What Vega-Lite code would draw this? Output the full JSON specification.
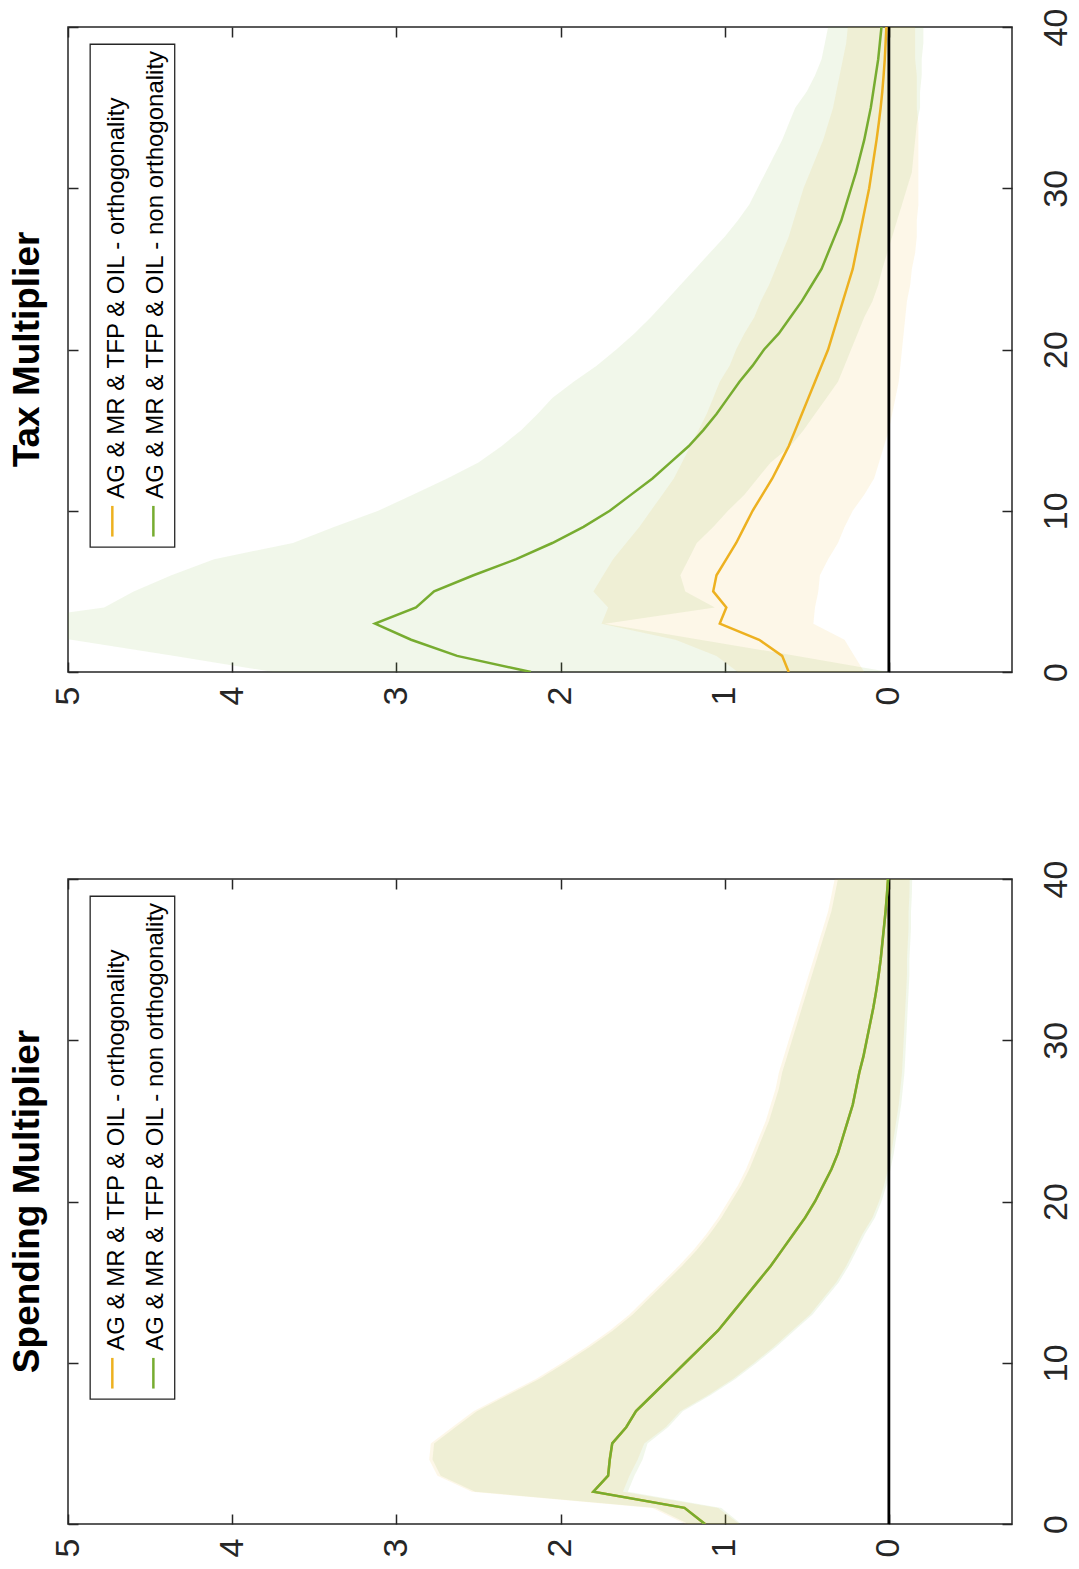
{
  "$schema": "https://vega.github.io/schema/vega-lite/v6.json",
  "padding": {"left": 8, "top": 7, "right": 2, "bottom": 2},
  "background": "white",
  "datasets": {
    "tax": [
      {"s":"orth","h":0,"m":0.61,"lo":0.15,"hi":0.92},
      {"s":"orth","h":1,"m":0.65,"lo":0.21,"hi":1.05},
      {"s":"orth","h":2,"m":0.79,"lo":0.27,"hi":1.30},
      {"s":"orth","h":3,"m":1.03,"lo":0.46,"hi":1.75},
      {"s":"orth","h":4,"m":0.99,"lo":0.45,"hi":1.71},
      {"s":"orth","h":5,"m":1.07,"lo":0.43,"hi":1.80},
      {"s":"orth","h":6,"m":1.05,"lo":0.42,"hi":1.74},
      {"s":"orth","h":7,"m":0.99,"lo":0.37,"hi":1.68},
      {"s":"orth","h":8,"m":0.93,"lo":0.31,"hi":1.60},
      {"s":"orth","h":9,"m":0.88,"lo":0.27,"hi":1.52},
      {"s":"orth","h":10,"m":0.83,"lo":0.22,"hi":1.45},
      {"s":"orth","h":11,"m":0.77,"lo":0.15,"hi":1.38},
      {"s":"orth","h":12,"m":0.71,"lo":0.09,"hi":1.31},
      {"s":"orth","h":13,"m":0.66,"lo":0.06,"hi":1.26},
      {"s":"orth","h":14,"m":0.61,"lo":0.03,"hi":1.21},
      {"s":"orth","h":15,"m":0.57,"lo":0.00,"hi":1.16},
      {"s":"orth","h":16,"m":0.53,"lo":-0.02,"hi":1.11},
      {"s":"orth","h":17,"m":0.49,"lo":-0.04,"hi":1.07},
      {"s":"orth","h":18,"m":0.45,"lo":-0.06,"hi":1.03},
      {"s":"orth","h":19,"m":0.41,"lo":-0.07,"hi":0.97},
      {"s":"orth","h":20,"m":0.37,"lo":-0.08,"hi":0.93},
      {"s":"orth","h":21,"m":0.34,"lo":-0.09,"hi":0.88},
      {"s":"orth","h":22,"m":0.31,"lo":-0.10,"hi":0.82},
      {"s":"orth","h":23,"m":0.28,"lo":-0.11,"hi":0.78},
      {"s":"orth","h":24,"m":0.25,"lo":-0.13,"hi":0.73},
      {"s":"orth","h":25,"m":0.22,"lo":-0.14,"hi":0.69},
      {"s":"orth","h":26,"m":0.20,"lo":-0.16,"hi":0.65},
      {"s":"orth","h":27,"m":0.18,"lo":-0.17,"hi":0.61},
      {"s":"orth","h":28,"m":0.16,"lo":-0.17,"hi":0.58},
      {"s":"orth","h":29,"m":0.14,"lo":-0.18,"hi":0.55},
      {"s":"orth","h":30,"m":0.12,"lo":-0.18,"hi":0.52},
      {"s":"orth","h":31,"m":0.105,"lo":-0.18,"hi":0.48},
      {"s":"orth","h":32,"m":0.09,"lo":-0.18,"hi":0.44},
      {"s":"orth","h":33,"m":0.075,"lo":-0.18,"hi":0.40},
      {"s":"orth","h":34,"m":0.062,"lo":-0.18,"hi":0.37},
      {"s":"orth","h":35,"m":0.05,"lo":-0.17,"hi":0.34},
      {"s":"orth","h":36,"m":0.04,"lo":-0.17,"hi":0.32},
      {"s":"orth","h":37,"m":0.032,"lo":-0.17,"hi":0.30},
      {"s":"orth","h":38,"m":0.025,"lo":-0.16,"hi":0.28},
      {"s":"orth","h":39,"m":0.02,"lo":-0.16,"hi":0.26},
      {"s":"orth","h":40,"m":0.015,"lo":-0.16,"hi":0.25},
      {"s":"nonorth","h":0,"m":2.18,"lo":0.0,"hi":3.75},
      {"s":"nonorth","h":1,"m":2.63,"lo":0.56,"hi":4.35},
      {"s":"nonorth","h":2,"m":2.91,"lo":1.15,"hi":4.98},
      {"s":"nonorth","h":3,"m":3.13,"lo":1.73,"hi":5.5},
      {"s":"nonorth","h":4,"m":2.88,"lo":1.06,"hi":4.78},
      {"s":"nonorth","h":5,"m":2.77,"lo":1.24,"hi":4.6},
      {"s":"nonorth","h":6,"m":2.53,"lo":1.27,"hi":4.37},
      {"s":"nonorth","h":7,"m":2.27,"lo":1.22,"hi":4.11},
      {"s":"nonorth","h":8,"m":2.05,"lo":1.17,"hi":3.63},
      {"s":"nonorth","h":9,"m":1.86,"lo":1.07,"hi":3.38},
      {"s":"nonorth","h":10,"m":1.70,"lo":0.98,"hi":3.11},
      {"s":"nonorth","h":11,"m":1.57,"lo":0.88,"hi":2.90},
      {"s":"nonorth","h":12,"m":1.44,"lo":0.80,"hi":2.69},
      {"s":"nonorth","h":13,"m":1.33,"lo":0.72,"hi":2.50},
      {"s":"nonorth","h":14,"m":1.22,"lo":0.60,"hi":2.36},
      {"s":"nonorth","h":15,"m":1.13,"lo":0.52,"hi":2.24},
      {"s":"nonorth","h":16,"m":1.05,"lo":0.45,"hi":2.14},
      {"s":"nonorth","h":17,"m":0.98,"lo":0.38,"hi":2.05},
      {"s":"nonorth","h":18,"m":0.91,"lo":0.31,"hi":1.92},
      {"s":"nonorth","h":19,"m":0.83,"lo":0.27,"hi":1.78},
      {"s":"nonorth","h":20,"m":0.76,"lo":0.23,"hi":1.66},
      {"s":"nonorth","h":21,"m":0.67,"lo":0.19,"hi":1.55},
      {"s":"nonorth","h":22,"m":0.60,"lo":0.15,"hi":1.45},
      {"s":"nonorth","h":23,"m":0.53,"lo":0.10,"hi":1.36},
      {"s":"nonorth","h":24,"m":0.47,"lo":0.065,"hi":1.27},
      {"s":"nonorth","h":25,"m":0.41,"lo":0.04,"hi":1.18},
      {"s":"nonorth","h":26,"m":0.37,"lo":0.01,"hi":1.09},
      {"s":"nonorth","h":27,"m":0.33,"lo":-0.02,"hi":1.00},
      {"s":"nonorth","h":28,"m":0.29,"lo":-0.05,"hi":0.92},
      {"s":"nonorth","h":29,"m":0.26,"lo":-0.08,"hi":0.85},
      {"s":"nonorth","h":30,"m":0.23,"lo":-0.11,"hi":0.80},
      {"s":"nonorth","h":31,"m":0.20,"lo":-0.14,"hi":0.75},
      {"s":"nonorth","h":32,"m":0.175,"lo":-0.15,"hi":0.70},
      {"s":"nonorth","h":33,"m":0.15,"lo":-0.16,"hi":0.65},
      {"s":"nonorth","h":34,"m":0.13,"lo":-0.17,"hi":0.61},
      {"s":"nonorth","h":35,"m":0.11,"lo":-0.19,"hi":0.57},
      {"s":"nonorth","h":36,"m":0.095,"lo":-0.19,"hi":0.50},
      {"s":"nonorth","h":37,"m":0.08,"lo":-0.20,"hi":0.45},
      {"s":"nonorth","h":38,"m":0.065,"lo":-0.20,"hi":0.41},
      {"s":"nonorth","h":39,"m":0.055,"lo":-0.21,"hi":0.39},
      {"s":"nonorth","h":40,"m":0.045,"lo":-0.21,"hi":0.37}
    ],
    "spend": [
      {"s":"orth","h":0,"m":1.12,"lo":0.91,"hi":1.24},
      {"s":"orth","h":1,"m":1.245,"lo":1.04,"hi":1.44},
      {"s":"orth","h":2,"m":1.80,"lo":1.62,"hi":2.54},
      {"s":"orth","h":3,"m":1.71,"lo":1.58,"hi":2.75},
      {"s":"orth","h":4,"m":1.70,"lo":1.53,"hi":2.80},
      {"s":"orth","h":5,"m":1.685,"lo":1.49,"hi":2.79},
      {"s":"orth","h":6,"m":1.60,"lo":1.36,"hi":2.66},
      {"s":"orth","h":7,"m":1.54,"lo":1.27,"hi":2.53},
      {"s":"orth","h":8,"m":1.44,"lo":1.10,"hi":2.34},
      {"s":"orth","h":9,"m":1.34,"lo":0.95,"hi":2.15},
      {"s":"orth","h":10,"m":1.24,"lo":0.82,"hi":1.99},
      {"s":"orth","h":11,"m":1.14,"lo":0.70,"hi":1.84},
      {"s":"orth","h":12,"m":1.04,"lo":0.59,"hi":1.70},
      {"s":"orth","h":13,"m":0.96,"lo":0.48,"hi":1.58},
      {"s":"orth","h":14,"m":0.88,"lo":0.40,"hi":1.48},
      {"s":"orth","h":15,"m":0.80,"lo":0.32,"hi":1.38},
      {"s":"orth","h":16,"m":0.72,"lo":0.26,"hi":1.28},
      {"s":"orth","h":17,"m":0.65,"lo":0.21,"hi":1.19},
      {"s":"orth","h":18,"m":0.58,"lo":0.16,"hi":1.11},
      {"s":"orth","h":19,"m":0.51,"lo":0.10,"hi":1.04},
      {"s":"orth","h":20,"m":0.45,"lo":0.06,"hi":0.98},
      {"s":"orth","h":21,"m":0.40,"lo":0.03,"hi":0.92},
      {"s":"orth","h":22,"m":0.35,"lo":0.005,"hi":0.87},
      {"s":"orth","h":23,"m":0.31,"lo":-0.015,"hi":0.83},
      {"s":"orth","h":24,"m":0.28,"lo":-0.03,"hi":0.79},
      {"s":"orth","h":25,"m":0.25,"lo":-0.045,"hi":0.75},
      {"s":"orth","h":26,"m":0.22,"lo":-0.06,"hi":0.72},
      {"s":"orth","h":27,"m":0.20,"lo":-0.07,"hi":0.69},
      {"s":"orth","h":28,"m":0.18,"lo":-0.08,"hi":0.67},
      {"s":"orth","h":29,"m":0.155,"lo":-0.085,"hi":0.64},
      {"s":"orth","h":30,"m":0.135,"lo":-0.09,"hi":0.61},
      {"s":"orth","h":31,"m":0.115,"lo":-0.095,"hi":0.58},
      {"s":"orth","h":32,"m":0.095,"lo":-0.10,"hi":0.55},
      {"s":"orth","h":33,"m":0.078,"lo":-0.105,"hi":0.52},
      {"s":"orth","h":34,"m":0.063,"lo":-0.11,"hi":0.49},
      {"s":"orth","h":35,"m":0.05,"lo":-0.11,"hi":0.46},
      {"s":"orth","h":36,"m":0.04,"lo":-0.115,"hi":0.43},
      {"s":"orth","h":37,"m":0.03,"lo":-0.12,"hi":0.40},
      {"s":"orth","h":38,"m":0.02,"lo":-0.12,"hi":0.37},
      {"s":"orth","h":39,"m":0.012,"lo":-0.125,"hi":0.35},
      {"s":"orth","h":40,"m":0.005,"lo":-0.127,"hi":0.33},
      {"s":"nonorth","h":0,"m":1.12,"lo":0.90,"hi":1.22},
      {"s":"nonorth","h":1,"m":1.245,"lo":1.02,"hi":1.42},
      {"s":"nonorth","h":2,"m":1.80,"lo":1.59,"hi":2.52},
      {"s":"nonorth","h":3,"m":1.71,"lo":1.55,"hi":2.73},
      {"s":"nonorth","h":4,"m":1.70,"lo":1.50,"hi":2.78},
      {"s":"nonorth","h":5,"m":1.685,"lo":1.47,"hi":2.77},
      {"s":"nonorth","h":6,"m":1.60,"lo":1.345,"hi":2.64},
      {"s":"nonorth","h":7,"m":1.54,"lo":1.255,"hi":2.51},
      {"s":"nonorth","h":8,"m":1.44,"lo":1.085,"hi":2.32},
      {"s":"nonorth","h":9,"m":1.34,"lo":0.935,"hi":2.13},
      {"s":"nonorth","h":10,"m":1.24,"lo":0.805,"hi":1.97},
      {"s":"nonorth","h":11,"m":1.14,"lo":0.685,"hi":1.82},
      {"s":"nonorth","h":12,"m":1.04,"lo":0.575,"hi":1.68},
      {"s":"nonorth","h":13,"m":0.96,"lo":0.465,"hi":1.56},
      {"s":"nonorth","h":14,"m":0.88,"lo":0.385,"hi":1.46},
      {"s":"nonorth","h":15,"m":0.80,"lo":0.305,"hi":1.36},
      {"s":"nonorth","h":16,"m":0.72,"lo":0.245,"hi":1.26},
      {"s":"nonorth","h":17,"m":0.65,"lo":0.195,"hi":1.17},
      {"s":"nonorth","h":18,"m":0.58,"lo":0.145,"hi":1.09},
      {"s":"nonorth","h":19,"m":0.51,"lo":0.085,"hi":1.02},
      {"s":"nonorth","h":20,"m":0.45,"lo":0.045,"hi":0.96},
      {"s":"nonorth","h":21,"m":0.40,"lo":0.015,"hi":0.90},
      {"s":"nonorth","h":22,"m":0.35,"lo":-0.01,"hi":0.85},
      {"s":"nonorth","h":23,"m":0.31,"lo":-0.03,"hi":0.81},
      {"s":"nonorth","h":24,"m":0.28,"lo":-0.045,"hi":0.77},
      {"s":"nonorth","h":25,"m":0.25,"lo":-0.06,"hi":0.73},
      {"s":"nonorth","h":26,"m":0.22,"lo":-0.075,"hi":0.70},
      {"s":"nonorth","h":27,"m":0.20,"lo":-0.085,"hi":0.67},
      {"s":"nonorth","h":28,"m":0.18,"lo":-0.095,"hi":0.65},
      {"s":"nonorth","h":29,"m":0.155,"lo":-0.10,"hi":0.62},
      {"s":"nonorth","h":30,"m":0.135,"lo":-0.105,"hi":0.59},
      {"s":"nonorth","h":31,"m":0.115,"lo":-0.11,"hi":0.56},
      {"s":"nonorth","h":32,"m":0.095,"lo":-0.115,"hi":0.53},
      {"s":"nonorth","h":33,"m":0.078,"lo":-0.12,"hi":0.50},
      {"s":"nonorth","h":34,"m":0.063,"lo":-0.125,"hi":0.47},
      {"s":"nonorth","h":35,"m":0.05,"lo":-0.125,"hi":0.44},
      {"s":"nonorth","h":36,"m":0.04,"lo":-0.13,"hi":0.41},
      {"s":"nonorth","h":37,"m":0.03,"lo":-0.135,"hi":0.38},
      {"s":"nonorth","h":38,"m":0.02,"lo":-0.135,"hi":0.35},
      {"s":"nonorth","h":39,"m":0.012,"lo":-0.14,"hi":0.33},
      {"s":"nonorth","h":40,"m":0.005,"lo":-0.142,"hi":0.31}
    ]
  },
  "vconcat": [
    {
      "title": {"text": "Tax Multiplier", "orient": "left", "anchor": "middle", "fontSize": 37, "fontWeight": "bold", "font": "Liberation Sans", "color": "#000000", "offset": 4},
      "width": 944,
      "height": 645,
      "resolve": {"axis": {"x": "independent", "y": "independent"}},
      "layer": [
        {
          "data": {"name": "tax"},
          "mark": {"type": "area", "orient": "horizontal", "fillOpacity": 0.1, "clip": true},
          "encoding": {
            "x": {"field": "lo", "type": "quantitative", "scale": {"domain": [-0.75, 5], "reverse": true, "nice": false, "zero": false},
                  "axis": {"orient": "bottom", "values": [0,1,2,3,4,5], "labelAngle": 270, "labelAlign": "right", "labelBaseline": "middle", "tickSize": -10, "labelPadding": 24, "labelFlush": false, "labelOverlap": false, "title": null}},
            "x2": {"field": "hi"},
            "y": {"field": "h", "type": "quantitative", "scale": {"domain": [0, 40], "nice": false, "zero": false},
                  "axis": {"orient": "right", "values": [0,10,20,30,40], "labelAngle": 270, "labelAlign": "center", "labelBaseline": "top", "tickSize": -10, "labelPadding": 37, "labelFlush": false, "labelOverlap": false, "title": null}},
            "color": {"field": "s", "type": "nominal", "scale": {"domain": ["orth", "nonorth"], "range": ["#EDB120", "#77AC30"]}, "legend": null}
          }
        },
        {
          "data": {"values": [{"v": 0}]},
          "mark": {"type": "rule", "color": "#000000", "strokeWidth": 2.8},
          "encoding": {
            "x": {"field": "v", "type": "quantitative", "axis": {"orient": "top", "values": [0,1,2,3,4,5], "labels": false, "tickSize": -10, "title": null}}
          }
        },
        {
          "data": {"name": "tax"},
          "transform": [{"filter": "datum.s === 'orth'"}],
          "mark": {"type": "line", "color": "#EDB120", "strokeWidth": 2.5, "clip": true},
          "encoding": {
            "x": {"field": "m", "type": "quantitative", "axis": null},
            "y": {"field": "h", "type": "quantitative", "axis": {"orient": "left", "values": [0,10,20,30,40], "labels": false, "tickSize": -10, "title": null}},
            "order": {"field": "h", "type": "quantitative"}
          }
        },
        {
          "data": {"name": "tax"},
          "transform": [{"filter": "datum.s === 'nonorth'"}],
          "mark": {"type": "line", "color": "#77AC30", "strokeWidth": 2.5, "clip": true},
          "encoding": {
            "x": {"field": "m", "type": "quantitative", "axis": null},
            "y": {"field": "h", "type": "quantitative", "axis": null},
            "order": {"field": "h", "type": "quantitative"}
          }
        },
        {
          "data": {"values": [{"x1": 4.865, "x2": 4.35, "y1": 38.93, "y2": 7.75}]},
          "mark": {"type": "rect", "fill": "white", "stroke": "#262626", "strokeWidth": 1.3},
          "encoding": {
            "x": {"field": "x1", "type": "quantitative", "axis": null},
            "x2": {"field": "x2"},
            "y": {"field": "y1", "type": "quantitative", "axis": null},
            "y2": {"field": "y2"}
          }
        },
        {
          "data": {"values": [{"label": "AG & MR & TFP & OIL - orthogonality", "s": "orth", "lx": 4.73, "ly1": 10.3, "ly2": 8.4, "tx": 4.70}, {"label": "AG & MR & TFP & OIL - non orthogonality", "s": "nonorth", "lx": 4.48, "ly1": 10.3, "ly2": 8.4, "tx": 4.465}]},
          "layer": [
            {
              "mark": {"type": "rule", "strokeWidth": 2.5},
              "encoding": {
                "x": {"field": "lx", "type": "quantitative", "axis": null},
                "y": {"field": "ly1", "type": "quantitative", "axis": null},
                "y2": {"field": "ly2"},
                "color": {"field": "s", "type": "nominal", "scale": {"domain": ["orth", "nonorth"], "range": ["#EDB120", "#77AC30"]}, "legend": null}
              }
            },
            {
              "mark": {"type": "text", "angle": 270, "align": "left", "baseline": "middle", "font": "Liberation Sans", "fontSize": 24, "color": "#000000"},
              "encoding": {
                "x": {"field": "tx", "type": "quantitative", "axis": null},
                "y": {"datum": 10.75, "type": "quantitative", "axis": null},
                "text": {"field": "label"}
              }
            }
          ]
        }
      ]
    },
    {
      "title": {"text": "Spending Multiplier", "orient": "left", "anchor": "middle", "fontSize": 37, "fontWeight": "bold", "font": "Liberation Sans", "color": "#000000", "offset": 4},
      "width": 944,
      "height": 645,
      "resolve": {"axis": {"x": "independent", "y": "independent"}},
      "layer": [
        {
          "data": {"name": "spend"},
          "mark": {"type": "area", "orient": "horizontal", "fillOpacity": 0.1, "clip": true},
          "encoding": {
            "x": {"field": "lo", "type": "quantitative", "scale": {"domain": [-0.75, 5], "reverse": true, "nice": false, "zero": false},
                  "axis": {"orient": "bottom", "values": [0,1,2,3,4,5], "labelAngle": 270, "labelAlign": "right", "labelBaseline": "middle", "tickSize": -10, "labelPadding": 24, "labelFlush": false, "labelOverlap": false, "title": null}},
            "x2": {"field": "hi"},
            "y": {"field": "h", "type": "quantitative", "scale": {"domain": [0, 40], "nice": false, "zero": false},
                  "axis": {"orient": "right", "values": [0,10,20,30,40], "labelAngle": 270, "labelAlign": "center", "labelBaseline": "top", "tickSize": -10, "labelPadding": 37, "labelFlush": false, "labelOverlap": false, "title": null}},
            "color": {"field": "s", "type": "nominal", "scale": {"domain": ["orth", "nonorth"], "range": ["#EDB120", "#77AC30"]}, "legend": null}
          }
        },
        {
          "data": {"values": [{"v": 0}]},
          "mark": {"type": "rule", "color": "#000000", "strokeWidth": 2.8},
          "encoding": {
            "x": {"field": "v", "type": "quantitative", "axis": {"orient": "top", "values": [0,1,2,3,4,5], "labels": false, "tickSize": -10, "title": null}}
          }
        },
        {
          "data": {"name": "spend"},
          "transform": [{"filter": "datum.s === 'orth'"}],
          "mark": {"type": "line", "color": "#EDB120", "strokeWidth": 2.5, "clip": true},
          "encoding": {
            "x": {"field": "m", "type": "quantitative", "axis": null},
            "y": {"field": "h", "type": "quantitative", "axis": {"orient": "left", "values": [0,10,20,30,40], "labels": false, "tickSize": -10, "title": null}},
            "order": {"field": "h", "type": "quantitative"}
          }
        },
        {
          "data": {"name": "spend"},
          "transform": [{"filter": "datum.s === 'nonorth'"}],
          "mark": {"type": "line", "color": "#77AC30", "strokeWidth": 2.5, "clip": true},
          "encoding": {
            "x": {"field": "m", "type": "quantitative", "axis": null},
            "y": {"field": "h", "type": "quantitative", "axis": null},
            "order": {"field": "h", "type": "quantitative"}
          }
        },
        {
          "data": {"values": [{"x1": 4.865, "x2": 4.35, "y1": 38.93, "y2": 7.75}]},
          "mark": {"type": "rect", "fill": "white", "stroke": "#262626", "strokeWidth": 1.3},
          "encoding": {
            "x": {"field": "x1", "type": "quantitative", "axis": null},
            "x2": {"field": "x2"},
            "y": {"field": "y1", "type": "quantitative", "axis": null},
            "y2": {"field": "y2"}
          }
        },
        {
          "data": {"values": [{"label": "AG & MR & TFP & OIL - orthogonality", "s": "orth", "lx": 4.73, "ly1": 10.3, "ly2": 8.4, "tx": 4.70}, {"label": "AG & MR & TFP & OIL - non orthogonality", "s": "nonorth", "lx": 4.48, "ly1": 10.3, "ly2": 8.4, "tx": 4.465}]},
          "layer": [
            {
              "mark": {"type": "rule", "strokeWidth": 2.5},
              "encoding": {
                "x": {"field": "lx", "type": "quantitative", "axis": null},
                "y": {"field": "ly1", "type": "quantitative", "axis": null},
                "y2": {"field": "ly2"},
                "color": {"field": "s", "type": "nominal", "scale": {"domain": ["orth", "nonorth"], "range": ["#EDB120", "#77AC30"]}, "legend": null}
              }
            },
            {
              "mark": {"type": "text", "angle": 270, "align": "left", "baseline": "middle", "font": "Liberation Sans", "fontSize": 24, "color": "#000000"},
              "encoding": {
                "x": {"field": "tx", "type": "quantitative", "axis": null},
                "y": {"datum": 10.75, "type": "quantitative", "axis": null},
                "text": {"field": "label"}
              }
            }
          ]
        }
      ]
    }
  ],
  "spacing": 153,
  "config": {
    "view": {"stroke": "#262626", "strokeWidth": 1.5},
    "axis": {"domain": false, "grid": false, "minExtent": 0, "tickColor": "#262626", "tickWidth": 1.5, "labelFont": "Liberation Sans", "labelFontSize": 34, "labelColor": "#262626"}
  }
}
